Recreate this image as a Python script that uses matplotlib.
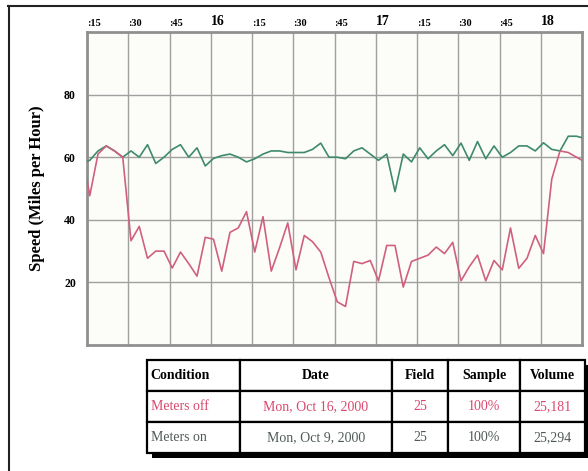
import pandas as pd
import numpy as np
import matplotlib
matplotlib.use('Agg')
import matplotlib.pyplot as plt
import matplotlib.dates as mdates
from matplotlib.lines import Line2D
from matplotlib.patches import Rectangle

plt.rcParams['font.family'] = ['Liberation Serif', 'DejaVu Serif']

# 3-minute samples, first one sits just left of the axis start
times = pd.date_range('2000-10-16 15:13', periods=62, freq='3min')

meters_on = [58, 59, 62, 63.6, 62, 60, 62, 60, 64, 58, 60, 62.5, 64, 60, 63, 57.2,
             59.6, 60.5, 61, 60, 58.5, 59.5, 61, 62, 62, 61.5, 61.5, 61.5, 62.5, 64.5,
             60, 60, 59.5, 62, 63, 61, 59, 61, 49, 61, 58.5, 63, 59.5, 62, 64, 60.5,
             64.5, 59, 65, 59.5, 63.6, 60, 61.5, 63.6, 63.6, 62, 64.6, 62.5, 62, 66.7,
             66.7, 66]
meters_off = [63, 47.7, 61, 63.6, 62, 60, 33.3, 37.9, 27.7, 30, 30, 24.6, 29.7, 26, 22,
              34.4, 33.8, 23.6, 36, 37.4, 42.6, 29.7, 41, 23.6, 31, 39, 24, 35, 33, 29.7,
              21.5, 13.8, 12.3, 26.7, 26, 27, 20.5, 31.8, 31.8, 18.5, 26.7, 27.7, 28.7,
              31.3, 29.2, 32.8, 20.5, 25, 28.7, 20.5, 27, 24, 37.4, 24.5, 27.7, 35, 29.2,
              53, 62, 61.5, 60, 58.5]

tick_labels = [':15', ':30', ':45', '16', ':15', ':30', ':45', '17', ':15', ':30', ':45', '18']
y_ticks = [20, 40, 60, 80]

col_labels = ['Condition', 'Date', 'Field', 'Sample', 'Volume']
rows = [['Meters off', 'Mon, Oct 16, 2000', '25', '100%', '25,181'],
        ['Meters on', 'Mon, Oct 9, 2000', '25', '100%', '25,294']]
row_colors = ['#d9476f', '#4f5a58']
col_widths = [93, 152, 56, 72, 65]

pink = '#d0607e'
green = '#3f8a6c'

fig = plt.figure(figsize=(5.88, 4.71), dpi=100)
ax = fig.add_axes([87/588, 1 - 345/471, (582-87)/588, (345-32)/471])
ax.set_facecolor('#fcfdf9')

ax.plot(times, meters_on, color=green, lw=1.2, zorder=3)
ax.plot(times, meters_off, color=pink, lw=1.2, zorder=3)

x0 = pd.Timestamp('2000-10-16 15:15')
x1 = pd.Timestamp('2000-10-16 18:15')
ax.set_xlim(x0, x1)
ax.set_ylim(0, 100)

xt = pd.date_range(x0, periods=12, freq='15min')
ax.set_xticks(mdates.date2num(xt))
ax.set_xticklabels(tick_labels)
ax.xaxis.tick_top()
ax.tick_params(axis='x', length=0, pad=3)
for lab in ax.get_xticklabels():
    big = not lab.get_text().startswith(':')
    lab.set_fontsize(10 if big else 7.5)
    lab.set_fontweight('bold')
    lab.set_horizontalalignment('left')

ax.set_yticks(y_ticks)
ax.set_yticklabels([str(v) for v in y_ticks], fontsize=8.5, fontweight='bold')
ax.tick_params(axis='y', length=0, pad=8)
ax.set_ylabel('Speed (Miles per Hour)', fontsize=12, fontweight='bold', labelpad=14)

ax.grid(True, color='#a0a0a0', lw=1, zorder=1)
for s in ax.spines.values():
    s.set_color('#909090')
    s.set_linewidth(2)

# table
ax_t = fig.add_axes([147/588, 1 - 453/471, (585-147)/588, (453-360)/471])
ax_t.axis('off')
tw = np.array(col_widths) / sum(col_widths)
tbl = ax_t.table(cellText=rows, colLabels=col_labels, colWidths=tw,
                 bbox=[0, 0, 1, 1], cellLoc='center')
tbl.auto_set_font_size(False)
for (r, c), cell in tbl.get_celld().items():
    cell.set_linewidth(1.6)
    cell.set_edgecolor('black')
    cell.set_facecolor('white')
    t = cell.get_text()
    t.set_fontsize(10)
    if r == 0:
        t.set_fontweight('bold')
    else:
        t.set_color(row_colors[r - 1])
    if c == 0:
        cell.set_text_props(ha='left')
        cell.PAD = 0.04
shadow = Rectangle((0.012, -0.055), 1.0, 1.0, transform=ax_t.transAxes,
                   facecolor='black', edgecolor='none', zorder=-1, clip_on=False)
ax_t.add_patch(shadow)

# outer frame lines
fig.add_artist(Line2D([8/588, 1], [1 - 6/471, 1 - 6/471], color='#222222', lw=1.5))
fig.add_artist(Line2D([9/588, 9/588], [0, 1 - 6/471], color='#222222', lw=1.5))

fig.savefig('out.png', dpi=100)
